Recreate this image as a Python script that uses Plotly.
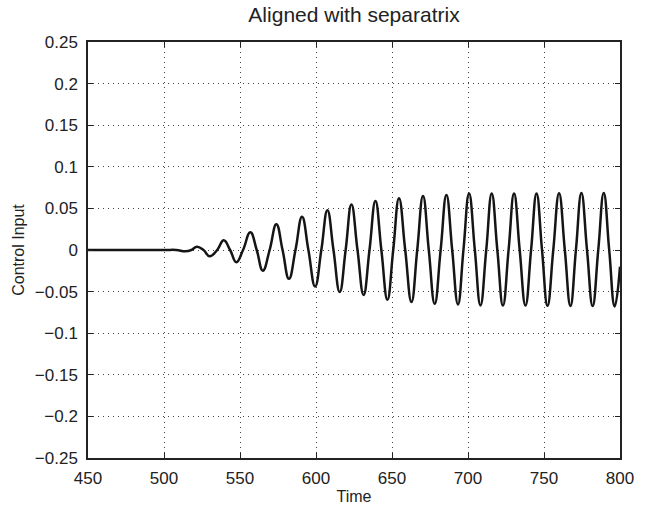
import plotly.graph_objects as go

# Curve: extrema and zero crossings (time, control input)
time_pts = [450, 500, 508, 514, 518, 521.7, 526, 530, 535, 539.3, 543.5, 547.6, 552,
            556.8, 561, 565, 569.5, 573.9, 578, 582.2, 586.5, 590.8, 595, 599.4, 603.5,
            607.5, 611.5, 615.6, 619.5, 623.3, 627.3, 631.3, 635.2, 639.1, 643, 647,
            650.8, 654.6, 658.7, 662.8, 666.6, 670.4, 674.2, 678.1, 682, 685.8, 689.6,
            693.4, 697, 700.7, 704.5, 708.2, 712, 715.6, 719.3, 723, 726.7, 730.3, 734,
            737.8, 741.5, 745.1, 748.7, 752.3, 756.1, 759.9, 763.7, 767.4, 771, 774.6,
            778.3, 782, 785.7, 789.3, 792.9, 796.5, 800]
control_pts = [0, 0, 0, -0.0016, 0, 0.004, 0, -0.0075, 0, 0.0116, 0, -0.0147, 0,
               0.0212, 0, -0.0248, 0, 0.031, 0, -0.0347, 0, 0.0399, 0, -0.0439, 0,
               0.0478, 0, -0.0506, 0, 0.0546, 0, -0.054, 0, 0.059, 0, -0.0598,
               0, 0.0622, 0, -0.0626, 0, 0.065, 0, -0.0646, 0, 0.0662, 0,
               -0.0654, 0, 0.0678, 0, -0.0666, 0, 0.0678, 0, -0.0668, 0, 0.0678, 0,
               -0.0668, 0, 0.068, 0, -0.067, 0, 0.0682, 0, -0.0672, 0, 0.0684,
               0, -0.0674, 0, 0.0685, 0, -0.0678, -0.02]

x_tick_vals = [450, 500, 550, 600, 650, 700, 750, 800]
x_tick_labels = ["450", "500", "550", "600", "650", "700", "750", "800"]
y_tick_vals = [0.25, 0.2, 0.15, 0.1, 0.05, 0, -0.05, -0.1, -0.15, -0.2, -0.25]
y_tick_labels = ["0.25", "0.2", "0.15", "0.1", "0.05", "0", "\u22120.05", "\u22120.1",
                 "\u22120.15", "\u22120.2", "\u22120.25"]

FONT = "Liberation Sans, Arial, Helvetica, sans-serif"
INK = "#222222"

fig = go.Figure()
fig.add_trace(go.Scatter(
    x=time_pts, y=control_pts, mode="lines",
    line=dict(color="#151515", width=2.5, shape="spline", smoothing=1.3),
    hoverinfo="skip", showlegend=False,
))

axis_common = dict(
    showline=True, linecolor=INK, linewidth=1.5, mirror="ticks",
    ticks="inside", ticklen=5, tickcolor=INK, tickwidth=1,
    showgrid=True, gridcolor="#444444", gridwidth=1, griddash="1px,4px",
    zeroline=False, tickfont=dict(family=FONT, size=17, color=INK),
)

fig.update_layout(
    width=649, height=515,
    margin=dict(l=88, r=29, t=42, b=55),
    paper_bgcolor="white", plot_bgcolor="white",
    title=dict(text="Aligned with separatrix", x=354 / 649, xanchor="center",
               y=1 - 15 / 515, yanchor="middle",
               font=dict(family=FONT, size=21, color=INK)),
    xaxis=dict(range=[450, 800], tickvals=x_tick_vals, ticktext=x_tick_labels,
               title=dict(text="Time", font=dict(family=FONT, size=16, color=INK), standoff=4),
               ticklabelstandoff=4, **axis_common),
    yaxis=dict(range=[-0.25, 0.25], tickvals=y_tick_vals, ticktext=y_tick_labels,
               title=dict(text="Control Input", font=dict(family=FONT, size=16, color=INK), standoff=6),
               ticklabelstandoff=5, **axis_common),
)

fig.write_html("out.html")
